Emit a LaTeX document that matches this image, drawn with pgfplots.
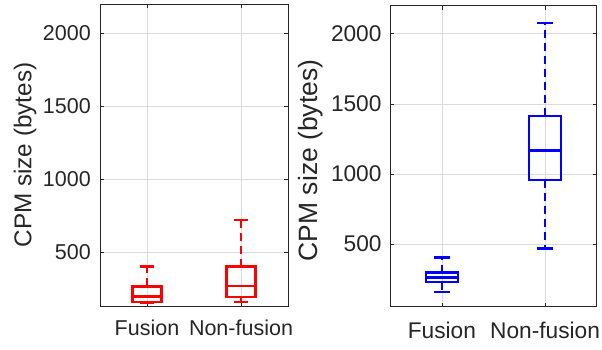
\documentclass[border=0pt]{standalone}
\usepackage{pgfplots}
\pgfplotsset{compat=1.18}
\usepgfplotslibrary{statistics}
\usepackage{fontspec}
\setmainfont{Liberation Sans}
\definecolor{axgray}{gray}{0.15}
\definecolor{gridgray}{gray}{0.86}
\pgfplotsset{
  mystyle/.style={
    scale only axis, anchor=south west,
    xmin=0.5, xmax=2.5, xtick={1,2}, xticklabels={Fusion,Non-fusion},
    ytick={500,1000,1500,2000}, ymax=2200,
    grid=major, grid style={gridgray, line width=0.6pt},
    axis line style={axgray, line width=0.6pt},
    tick style={axgray, line width=0.6pt}, tick align=inside, major tick length=4pt,
    /pgf/number format/assume math mode=true,
    /pgf/number format/1000 sep={},
    ticklabel style={color=axgray},
    yticklabel style={anchor=east, inner sep=0pt},
    xticklabel style={anchor=base, inner sep=0pt},
    ylabel={CPM size (bytes)},
    ylabel style={anchor=center, inner sep=0pt, color=axgray},
    boxplot/draw direction=y,
    boxplot/box extend=0.31, boxplot/whisker extend=0.152,
    boxplot/draw/box/.code={
      \draw[line width=2.4pt]
        (boxplot box cs:\pgfplotsboxplotvalue{lower quartile},0)
        rectangle (boxplot box cs:\pgfplotsboxplotvalue{upper quartile},1);
    },
    boxplot/draw/median/.code={
      \draw[line width=2.4pt]
        (boxplot box cs:\pgfplotsboxplotvalue{median},0)
        -- (boxplot box cs:\pgfplotsboxplotvalue{median},1);
    },
    boxplot/draw/lower whisker/.code={
      \draw[line width=2.4pt, dash pattern=on 8pt off 5pt]
        (boxplot box cs:\pgfplotsboxplotvalue{lower quartile},0.5)
        -- (boxplot box cs:\pgfplotsboxplotvalue{lower whisker},0.5);
      \draw[line width=2.4pt] (boxplot whisker cs:\pgfplotsboxplotvalue{lower whisker},0)
        -- (boxplot whisker cs:\pgfplotsboxplotvalue{lower whisker},1);
    },
    boxplot/draw/upper whisker/.code={
      \draw[line width=2.4pt, dash pattern=on 8pt off 5pt]
        (boxplot box cs:\pgfplotsboxplotvalue{upper quartile},0.5)
        -- (boxplot box cs:\pgfplotsboxplotvalue{upper whisker},0.5);
      \draw[line width=2.4pt] (boxplot whisker cs:\pgfplotsboxplotvalue{upper whisker},0)
        -- (boxplot whisker cs:\pgfplotsboxplotvalue{upper whisker},1);
    },
  }
}
\begin{document}
\begin{tikzpicture}
\useasboundingbox (0,0) rectangle (602pt,349pt);
% left panel
\begin{axis}[mystyle,
  at={(100pt,43pt)}, width=188pt, height=302pt, ymin=130,
  ticklabel style={font=\fontsize{21.5}{24}\selectfont},
  yticklabel style={xshift=-9pt},
  xticklabel style={yshift=-29pt},
  ylabel style={at={(axis description cs:-0.399,0.5)}, font=\fontsize{24.3}{28}\selectfont},
]
\addplot[red, line width=2.4pt, boxplot prepared={draw position=1,
  lower whisker=152, lower quartile=159, median=195, upper quartile=264, upper whisker=402}]
  coordinates {};
\addplot[red, line width=2.4pt, boxplot prepared={draw position=2,
  lower whisker=156, lower quartile=190, median=268, upper quartile=400, upper whisker=719}]
  coordinates {};
\end{axis}
% right panel
\begin{axis}[mystyle,
  at={(390.3pt,42.3pt)}, width=206.4pt, height=301pt, ymin=53,
  ticklabel style={font=\fontsize{22.7}{26}\selectfont},
  yticklabel style={xshift=-8.6pt},
  xticklabel style={yshift=-31.6pt},
  ylabel style={at={(axis description cs:-0.385,0.486)}, font=\fontsize{26.5}{30}\selectfont},
  boxplot/whisker extend=0.148,
]
\addplot[blue, line width=2.4pt, boxplot prepared={draw position=1,
  lower whisker=156, lower quartile=228, median=262, upper quartile=296, upper whisker=403}]
  coordinates {};
\addplot[blue, line width=2.4pt, boxplot prepared={draw position=2,
  lower whisker=469, lower quartile=957, median=1166, upper quartile=1412, upper whisker=2078}]
  coordinates {};
\end{axis}
\end{tikzpicture}
\end{document}
